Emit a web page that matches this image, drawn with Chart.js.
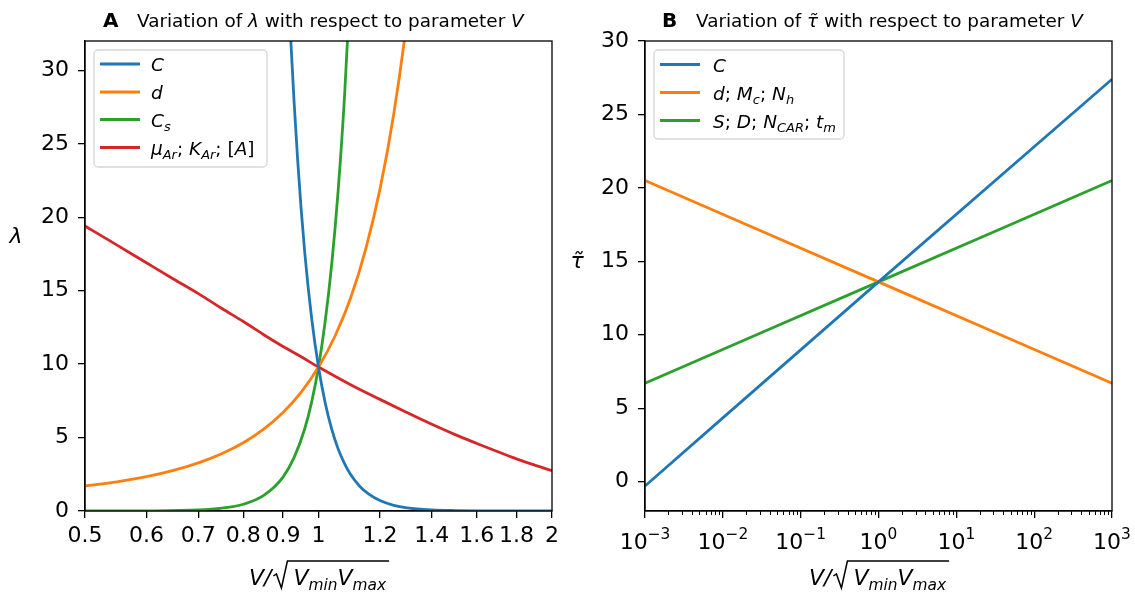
<!DOCTYPE html>
<html>
<head>
<meta charset="utf-8">
<script src="https://cdn.jsdelivr.net/npm/chart.js@4.4.1/dist/chart.umd.min.js"></script>
<style>
  html, body { margin: 0; padding: 0; background: #fff; }
  #pa { position: absolute; left: 0; top: 0; width: 567px; height: 596px; }
  #pb { position: absolute; left: 567px; top: 0; width: 568px; height: 596px; }
</style>
</head>
<body>
<div id="pa"><canvas id="c1"></canvas></div>
<div id="pb"><canvas id="c2"></canvas></div>
<script>
// ---- panel A: lambda vs V (log x) ----
const cX  = [0.9, 0.92, 0.94, 0.96, 0.98, 1, 1.02, 1.04, 1.06, 1.08, 1.1, 1.13, 1.16, 1.2, 1.25, 1.3, 1.4, 1.5, 1.6, 1.8, 2];
const cY  = [44.7, 32.6, 23.9, 17.6, 13.1, 9.8, 7.37, 5.57, 4.23, 3.24, 2.48, 1.69, 1.16, 0.71, 0.39, 0.22, 0.08, 0.03, 0.01, 0, 0];
const dX  = [0.5, 0.55, 0.6, 0.65, 0.7, 0.75, 0.8, 0.85, 0.9, 0.95, 1, 1.05, 1.1, 1.15, 1.2, 1.25, 1.3, 1.35];
const dY  = [1.7, 1.99, 2.34, 2.77, 3.28, 3.9, 4.65, 5.57, 6.7, 8.09, 9.8, 11.9, 14.5, 17.8, 21.9, 27.0, 33.4, 41.5];
const csX = [0.5, 0.6, 0.7, 0.75, 0.8, 0.85, 0.9, 0.93, 0.96, 0.98, 1, 1.02, 1.04, 1.06, 1.08, 1.1];
const csY = [0, 0.01, 0.07, 0.19, 0.46, 1.06, 2.31, 3.63, 5.6, 7.43, 9.8, 12.9, 16.8, 21.8, 28.1, 36.2];
const muX = [0.5, 0.55, 0.6, 0.65, 0.7, 0.75, 0.8, 0.85, 0.9, 0.95, 1, 1.1, 1.2, 1.3, 1.4, 1.5, 1.6, 1.7, 1.8, 1.9, 2];
const muY = [19.4, 18.1, 16.9, 15.8, 14.8, 13.8, 12.9, 12.0, 11.2, 10.5, 9.8, 8.6, 7.6, 6.7, 5.9, 5.2, 4.6, 4.05, 3.55, 3.12, 2.75];
const lamXTicks = [0.5, 0.6, 0.7, 0.8, 0.9, 1, 1.2, 1.4, 1.6, 1.8, 2];
const lamYTicks = [0, 5, 10, 15, 20, 25, 30];

// ---- panel B: tau vs V (log x) ----
const tauX = [0.001, 1, 1000];
const tauC = [-0.3, 13.6, 27.4];
const tauD = [20.5, 13.6, 6.7];
const tauS = [6.7, 13.6, 20.5];
const tauXTicks = [1e-3, 1e-2, 1e-1, 1, 1e1, 1e2, 1e3];
const tauXExp = ['\u22123', '\u22122', '\u22121', '0', '1', '2', '3'];
const tauYTicks = [0, 5, 10, 15, 20, 25, 30];

const FONT = '"DejaVu Sans"';
const TICK = 22, LEG = 18.5, TTL = 18.4;
const BLUE = '#1f77b4', ORANGE = '#ff7f0e', GREEN = '#2ca02c', RED = '#d62728';

const pts = (xs, ys) => xs.map((x, i) => ({ x: x, y: ys[i] }));

function setFont(ctx, s, size) {
  const sz = (s.sub || s.sup) ? size * 0.7 : size;
  ctx.font = (s.b ? 'bold ' : '') + (s.it ? 'italic ' : '') + sz + 'px ' + FONT;
}
function richWidth(ctx, segs, size) {
  let w = 0;
  segs.forEach(s => { setFont(ctx, s, size); w += ctx.measureText(s.t).width; });
  return w;
}
function drawRich(ctx, segs, x, y, size, align) {
  const w = richWidth(ctx, segs, size);
  let cx = align === 'center' ? x - w / 2 : (align === 'right' ? x - w : x);
  ctx.textAlign = 'left';
  ctx.textBaseline = 'alphabetic';
  ctx.fillStyle = '#000';
  segs.forEach(s => {
    setFont(ctx, s, size);
    const dy = s.sub ? size * 0.24 : (s.sup ? -size * 0.45 : 0);
    ctx.fillText(s.t, cx, y + dy);
    cx += ctx.measureText(s.t).width;
  });
  return w;
}

// V / sqrt(Vmin Vmax)
function drawXTitle(ctx, cx, base, size) {
  const pre = [{ t: 'V', it: 1 }, { t: '/', it: 1 }];
  const inner = [{ t: 'V', it: 1 }, { t: 'min', it: 1, sub: 1 }, { t: 'V', it: 1 }, { t: 'max', it: 1, sub: 1 }];
  const w1 = richWidth(ctx, pre, size), w2 = richWidth(ctx, inner, size);
  const rad = 22;
  const total = w1 + rad + w2 + 2;
  const x = cx - total / 2;
  drawRich(ctx, pre, x, base, size, 'left');
  const x0 = x + w1 + 2;
  const top = base - 24;
  ctx.strokeStyle = '#000';
  ctx.lineWidth = 1.5;
  ctx.beginPath();
  ctx.moveTo(x0, base - 9);
  ctx.lineTo(x0 + 3, base - 11);
  ctx.lineTo(x0 + 8, base + 3);
  ctx.lineTo(x0 + 14, top);
  ctx.lineTo(x0 + rad + w2 + 1, top);
  ctx.stroke();
  drawRich(ctx, inner, x0 + rad - 2, base, size, 'left');
}

function drawLegend(ctx, box, items) {
  ctx.save();
  ctx.beginPath();
  ctx.roundRect(box.x, box.y, box.w, box.h, 4);
  ctx.fillStyle = 'rgba(255,255,255,0.8)';
  ctx.fill();
  ctx.strokeStyle = '#d6d6d6';
  ctx.lineWidth = 1.3;
  ctx.stroke();
  items.forEach(it => {
    ctx.strokeStyle = it.color;
    ctx.lineWidth = 2.8;
    ctx.beginPath();
    ctx.moveTo(box.lx, it.y);
    ctx.lineTo(box.lx + 40, it.y);
    ctx.stroke();
    drawRich(ctx, it.segs, box.tx, it.y + 7, LEG, 'left');
  });
  ctx.restore();
}

function decor(opts) {
  return {
    id: 'decor' + opts.name,
    afterDraw(chart) {
      const ctx = chart.ctx;
      const a = chart.chartArea;
      ctx.save();
      // frame
      ctx.strokeStyle = '#000';
      ctx.lineWidth = 1.3;
      ctx.strokeRect(a.left, a.top, a.right - a.left, a.bottom - a.top);
      // title
      drawRich(ctx, [{ t: opts.letter, b: 1 }], opts.titleX, 27, 20, 'left');
      drawRich(ctx, opts.title, opts.titleX + 34, 27, TTL, 'left');
      // axis titles
      drawRich(ctx, opts.ylabel, opts.ylabelX, opts.ylabelY, TICK, 'center');
      drawXTitle(ctx, (a.left + a.right) / 2, 585, TICK);
      // legend
      drawLegend(ctx, opts.legend, opts.items);
      if (opts.extra) opts.extra(chart, ctx);
      ctx.restore();
    }
  };
}

function yAxis(ticks, min, max, width) {
  return {
    type: 'linear', min: min, max: max,
    afterBuildTicks: s => { s.ticks = ticks.map(v => ({ value: v })); },
    afterFit: s => { s.width = width; },
    ticks: { color: '#000', font: { family: FONT, size: TICK }, padding: 9, autoSkip: false },
    grid: { drawOnChartArea: false, drawTicks: true, tickLength: 7, color: '#000', lineWidth: 1.3 },
    border: { display: true, color: '#000', width: 1.3 }
  };
}
function xAxis(ticks, min, max, cb) {
  return {
    type: 'logarithmic', min: min, max: max,
    afterBuildTicks: s => { s.ticks = ticks.map(v => ({ value: v })); },
    afterFit: s => { s.height = 85; },
    ticks: { color: '#000', font: { family: FONT, size: TICK }, padding: 5, autoSkip: false, maxRotation: 0, callback: cb },
    grid: { drawOnChartArea: false, drawTicks: true, tickLength: 7, color: '#000', lineWidth: 1.3 },
    border: { display: true, color: '#000', width: 1.3 }
  };
}
function line(data, color) {
  return { data: data, borderColor: color, borderWidth: 2.8, pointRadius: 0, fill: false, cubicInterpolationMode: 'monotone' };
}
function baseOptions(padRight, scales) {
  return {
    responsive: true, maintainAspectRatio: false, animation: false, devicePixelRatio: 1, events: [],
    layout: { padding: { left: 0, right: padRight, top: 41, bottom: 0 } },
    plugins: { legend: { display: false }, title: { display: false }, tooltip: { enabled: false } },
    scales: scales
  };
}

// panel A
new Chart(document.getElementById('c1'), {
  type: 'line',
  data: { datasets: [
    line(pts(cX, cY), BLUE),
    line(pts(dX, dY), ORANGE),
    line(pts(csX, csY), GREEN),
    line(pts(muX, muY), RED)
  ] },
  options: baseOptions(15, {
    x: xAxis(lamXTicks, 0.5, 2, v => String(v)),
    y: yAxis(lamYTicks, 0, 32, 85)
  }),
  plugins: [decor({
    name: 'A', letter: 'A', titleX: 103,
    title: [{ t: 'Variation of ' }, { t: '\u03bb', it: 1 }, { t: ' with respect to parameter ' }, { t: 'V', it: 1 }],
    ylabel: [{ t: '\u03bb', it: 1 }], ylabelX: 16, ylabelY: 243,
    legend: { x: 94, y: 50, w: 173, h: 117, lx: 100, tx: 151 },
    items: [
      { color: BLUE, y: 64, segs: [{ t: 'C', it: 1 }] },
      { color: ORANGE, y: 92, segs: [{ t: 'd', it: 1 }] },
      { color: GREEN, y: 119.5, segs: [{ t: 'C', it: 1 }, { t: 's', it: 1, sub: 1 }] },
      { color: RED, y: 147.5, segs: [{ t: '\u03bc', it: 1 }, { t: 'Ar', it: 1, sub: 1 }, { t: '; ' }, { t: 'K', it: 1 }, { t: 'Ar', it: 1, sub: 1 }, { t: '; [' }, { t: 'A', it: 1 }, { t: ']' }] }
    ]
  })]
});

// panel B
new Chart(document.getElementById('c2'), {
  type: 'line',
  data: { datasets: [
    line(pts(tauX, tauC), BLUE),
    line(pts(tauX, tauD), ORANGE),
    line(pts(tauX, tauS), GREEN)
  ] },
  options: baseOptions(23, {
    x: xAxis(tauXTicks, 1e-3, 1e3, () => ''),
    y: yAxis(tauYTicks, -2, 30, 78)
  }),
  plugins: [decor({
    name: 'B', letter: 'B', titleX: 95,
    title: [{ t: 'Variation of ' }, { t: '\u03c4\u0303', it: 1 }, { t: ' with respect to parameter ' }, { t: 'V', it: 1 }],
    ylabel: [{ t: '\u03c4\u0303', it: 1 }], ylabelX: 10, ylabelY: 268,
    legend: { x: 87, y: 50, w: 190, h: 89, lx: 93, tx: 146 },
    items: [
      { color: BLUE, y: 64.5, segs: [{ t: 'C', it: 1 }] },
      { color: ORANGE, y: 92.5, segs: [{ t: 'd', it: 1 }, { t: '; ' }, { t: 'M', it: 1 }, { t: 'c', it: 1, sub: 1 }, { t: '; ' }, { t: 'N', it: 1 }, { t: 'h', it: 1, sub: 1 }] },
      { color: GREEN, y: 120.5, segs: [{ t: 'S', it: 1 }, { t: '; ' }, { t: 'D', it: 1 }, { t: '; ' }, { t: 'N', it: 1 }, { t: 'CAR', it: 1, sub: 1 }, { t: '; ' }, { t: 't', it: 1 }, { t: 'm', it: 1, sub: 1 }] }
    ],
    extra: (chart, ctx) => {
      const sx = chart.scales.x;
      const a = chart.chartArea;
      // minor ticks
      ctx.strokeStyle = '#000';
      ctx.lineWidth = 1;
      ctx.beginPath();
      for (let k = -3; k < 3; k++) {
        for (let m = 2; m < 10; m++) {
          const px = Math.round(sx.getPixelForValue(m * Math.pow(10, k))) + 0.5;
          ctx.moveTo(px, a.bottom);
          ctx.lineTo(px, a.bottom + 4);
        }
      }
      ctx.stroke();
      // 10^k labels
      tauXTicks.forEach((v, i) => {
        drawRich(ctx, [{ t: '10' }, { t: tauXExp[i], sup: 1 }], sx.getPixelForValue(v), 549, TICK, 'center');
      });
    }
  })]
});
</script>
</body>
</html>
